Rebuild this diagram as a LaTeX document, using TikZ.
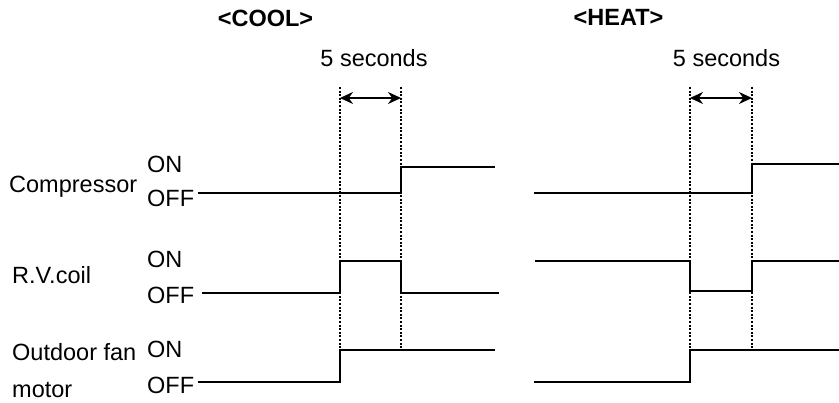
\documentclass[tikz,border=0pt]{standalone}
\usepackage{fontspec}
\setmainfont{Liberation Sans}
\usetikzlibrary{arrows.meta}
\begin{document}
\begin{tikzpicture}[x=1pt,y=-1pt,
  lbl/.style={anchor=base west,inner sep=0pt,font=\fontsize{23.5}{28}\selectfont},
  ctr/.style={anchor=base,inner sep=0pt,font=\fontsize{23.5}{28}\selectfont},
  ttl/.style={anchor=base,inner sep=0pt,font=\fontsize{23.5}{28}\selectfont\bfseries},
  sig/.style={line width=2.8pt,line join=miter},
  guide/.style={line width=1.2pt,dash pattern=on 2pt off 1.6pt},
  dim/.style={line width=1.6pt,{Stealth[length=13pt,width=12pt]}-{Stealth[length=13pt,width=12pt]}}]
\useasboundingbox (0,0) rectangle (839,403);
% titles
\node[ttl] (tcool) at (265.5,27) {<COOL>};
\node[ttl] (theat) at (618.5,26) {<HEAT>};
\node[ctr] (scool) at (374,67) {5 seconds};
\node[ctr] (sheat) at (726.5,67) {5 seconds};
% row labels
\node[lbl] (comp) at (9,193) {Compressor};
\node[lbl] (con) at (147,173) {ON};
\node[lbl] (coff) at (147,207) {OFF};
\node[lbl] (rv) at (12,284) {R.V.coil};
\node[lbl] (ron) at (147,268) {ON};
\node[lbl] (roff) at (147,304) {OFF};
\node[lbl] (fan) at (12,361) {Outdoor fan};
\node[lbl] (fmotor) at (12,398) {motor};
\node[lbl] (fon) at (147,358) {ON};
\node[lbl] (foff) at (147,394) {OFF};
% guide coordinates
\coordinate (ca1) at (340,87); \coordinate (cb1) at (340,350);
\coordinate (ca2) at (401,87); \coordinate (cb2) at (401,350);
\coordinate (ha1) at (690,87); \coordinate (hb1) at (690,350);
\coordinate (ha2) at (752,87); \coordinate (hb2) at (752,350);
\draw[guide] (ca1) -- (cb1);
\draw[guide] (ca2) -- (cb2);
\draw[guide] (ha1) -- (hb1);
\draw[guide] (ha2) -- (hb2);
\coordinate (cd1) at (340,98); \coordinate (cd2) at (401,98);
\coordinate (hd1) at (690,98); \coordinate (hd2) at (752,98);
\draw[dim] (cd1) -- (cd2);
\draw[dim] (hd1) -- (hd2);
% COOL signals
\draw[sig] (198,193) -- (401,193) -- (401,167) -- (495,167);
\draw[sig] (202,293) -- (340,293) -- (340,261) -- (401,261) -- (401,293) -- (499,293);
\draw[sig] (198,382) -- (340,382) -- (340,350) -- (495,350);
% HEAT signals
\draw[sig] (534,193) -- (752,193) -- (752,164) -- (839,164);
\draw[sig] (535,261) -- (690,261) -- (690,291) -- (752,291) -- (752,261) -- (839,261);
\draw[sig] (534,382) -- (690,382) -- (690,350) -- (839,350);
\end{tikzpicture}
\end{document}
